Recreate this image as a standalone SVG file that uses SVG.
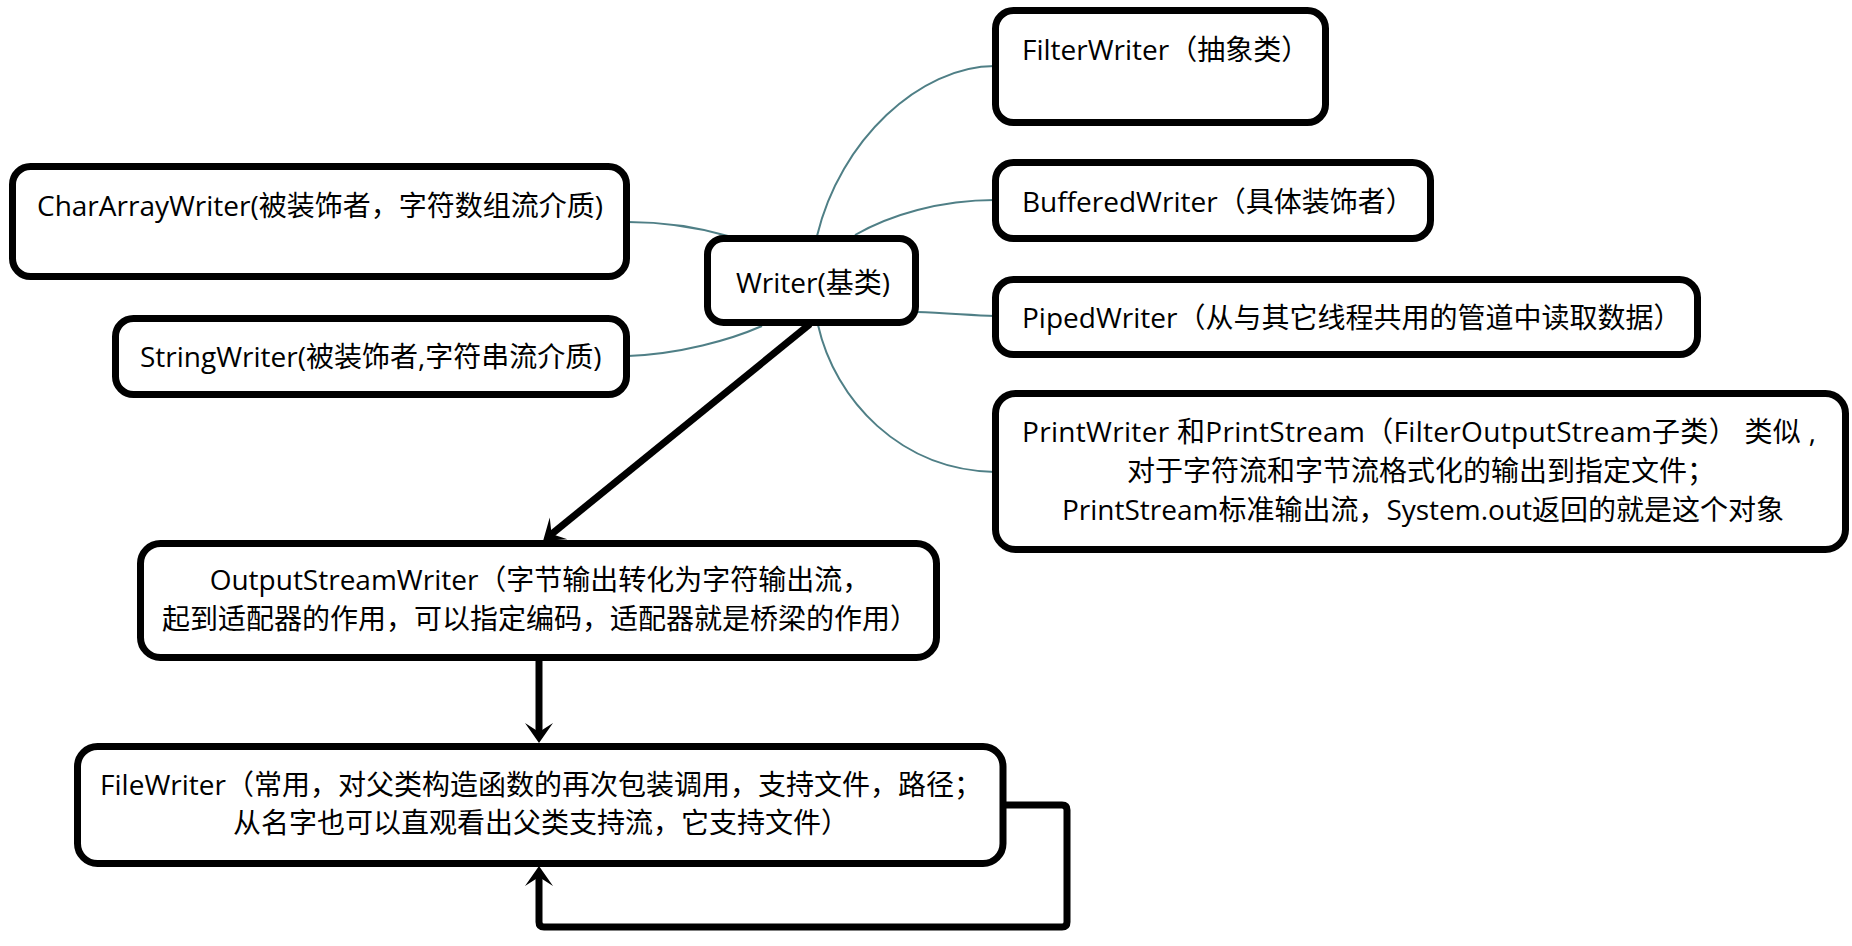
<svg xmlns="http://www.w3.org/2000/svg" width="1852" height="946" viewBox="0 0 1852 946">
<style>
.box{fill:#fff;stroke:#000;stroke-width:7}
.t{font-family:"Open Sans","Noto Sans CJK SC",sans-serif;font-size:28px;fill:#000}
.c{text-anchor:middle}
.thin{fill:none;stroke:#4f7f86;stroke-width:2}
.thick{fill:none;stroke:#000;stroke-width:7}
</style>
<defs>
<marker id="stealth" markerUnits="userSpaceOnUse" viewBox="-22 -16 24 32" markerWidth="24" markerHeight="32" refX="-10" refY="0" orient="auto">
<path d="M0,0 L-20,-14 L-11,0 L-20,14 Z" fill="#000"/>
</marker>
</defs>
<rect width="1852" height="946" fill="#fff"/>
<g id="connectors">
<path class="thin" d="M817,236 C840,140 920,66 995,66"/>
<path class="thin" d="M855,235 C890,215 940,200 995,200"/>
<path class="thin" d="M917,312 C945,313 970,315 995,316"/>
<path class="thin" d="M818,325 C835,400 900,470 995,472"/>
<path class="thin" d="M628,222 C670,222 700,228 728,236"/>
<path class="thin" d="M628,356 C680,354 730,340 762,326"/>
<path class="thick" d="M810,324 L550.8,534.7" marker-end="url(#stealth)"/>
<path class="thick" d="M539,661 V733" marker-end="url(#stealth)"/>
<path class="thick" d="M1003,805 H1062 Q1067,805 1067,810 V922 Q1067,927 1062,927 H544 Q539,927 539,922 V876" marker-end="url(#stealth)"/>
</g>
<g id="filterwriter">
<rect class="box" x="995.5" y="10.5" width="330" height="112" rx="18"/>
<text class="t" x="1022" y="60">FilterWriter（抽象类）</text>
</g>
<g id="bufferedwriter">
<rect class="box" x="995.5" y="162.5" width="435" height="76" rx="18"/>
<text class="t" x="1022" y="212">BufferedWriter（具体装饰者）</text>
</g>
<g id="pipedwriter">
<rect class="box" x="995.5" y="279.5" width="702" height="75" rx="18"/>
<text class="t" x="1022" y="328">PipedWriter（从与其它线程共用的管道中读取数据）</text>
</g>
<g id="printwriter">
<rect class="box" x="995.5" y="393.5" width="850" height="156" rx="20"/>
<text class="t c" x="1419" y="442" textLength="794" lengthAdjust="spacing">PrintWriter 和PrintStream（FilterOutputStream子类） 类似 ,</text>
<text class="t c" x="1421" y="481">对于字符流和字节流格式化的输出到指定文件；</text>
<text class="t c" x="1423" y="520">PrintStream标准输出流，System.out返回的就是这个对象</text>
</g>
<g id="chararraywriter">
<rect class="box" x="12.5" y="166.5" width="614" height="110" rx="18"/>
<text class="t" x="37" y="216">CharArrayWriter(被装饰者，字符数组流介质)</text>
</g>
<g id="stringwriter">
<rect class="box" x="115.5" y="318.5" width="511" height="76" rx="18"/>
<text class="t" x="140" y="367">StringWriter(被装饰者,字符串流介质)</text>
</g>
<g id="writer">
<rect class="box" x="707.5" y="238.5" width="208" height="84" rx="16"/>
<text class="t" x="736" y="293">Writer(基类)</text>
</g>
<g id="outputstreamwriter">
<rect class="box" x="140.5" y="543.5" width="796" height="114" rx="20"/>
<text class="t c" x="540" y="590">OutputStreamWriter（字节输出转化为字符输出流，</text>
<text class="t c" x="540" y="629">起到适配器的作用，可以指定编码，适配器就是桥梁的作用）</text>
</g>
<g id="filewriter">
<rect class="box" x="77.5" y="746.5" width="925.5" height="117" rx="20"/>
<text class="t c" x="541" y="795">FileWriter（常用，对父类构造函数的再次包装调用，支持文件，路径；</text>
<text class="t c" x="541" y="833">从名字也可以直观看出父类支持流，它支持文件）</text>
</g>
</svg>
